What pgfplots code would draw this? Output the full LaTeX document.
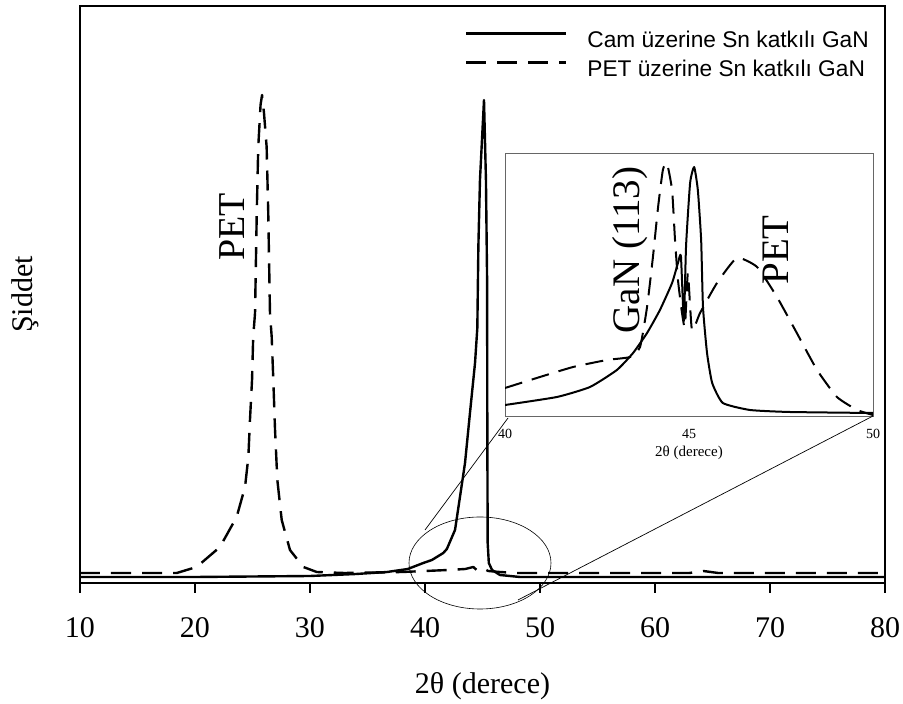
\documentclass[border=0pt]{standalone}
\usepackage{fontspec}
\setmainfont{Liberation Serif}
\newfontfamily\arial{Liberation Sans}
\usepackage{pgfplots}
\pgfplotsset{compat=1.18}
\begin{document}
\begin{tikzpicture}
\useasboundingbox (0pt,0pt) rectangle (903pt,704pt);
\begin{axis}[
  at={(80pt,121pt)}, anchor=south west, scale only axis,
  width=805pt, height=577pt,
  xmin=10, xmax=80, ymin=0, ymax=577,
  xtick={10,20,...,80}, ytick=\empty,
  xtick pos=bottom, tick align=outside, major tick length=10pt,
  axis line style={line width=1.6pt},
  every tick/.style={line width=1.2pt, black},
  /pgf/number format/assume math mode=true,
  xticklabel style={font=\fontsize{30}{30}\selectfont, yshift=-21pt},
  xlabel={2θ (derece)},
  xlabel style={font=\fontsize{30}{30}\selectfont, at={(axis description cs:0.5,-0.1785)}, anchor=center},
  ylabel={Şiddet},
  ylabel style={font=\fontsize{30}{30}\selectfont, at={(axis description cs:-0.0683,0.5)}, anchor=center},
  legend image code/.code={\draw[#1] (0pt,8pt) -- (100pt,8pt);},
  legend style={draw=none, fill=none, inner sep=0pt, font=\arial\fontsize{22.7}{22.7}\selectfont,
    at={(axis description cs:0.478,0.958)}, anchor=north west,
    nodes={inner sep=0pt, text height=17pt, text depth=5pt},
    column sep=20pt, row sep=7pt},
  legend cell align=left,
]
\addplot[line width=2.4pt, line join=round] coordinates {
(10,6)(20,6)(30,7)(34,9)(36.7,11)(38.5,14)(39.85,20)(40.6,23)(41.59,30)(41.9,34)(42.61,53)(43.04,86)(43.48,120)(43.91,170)(44.35,220)(44.55,255)(44.64,336)(44.78,403)(45.13,483)(45.30,403)(45.40,303)(45.42,150)(45.45,40)(45.55,20)(45.83,13)(46.52,8)(48.26,6)(60,6)(80,6)};
\addlegendentry{Cam üzerine Sn katkılı GaN}
\addplot[line width=2.4pt, line join=round, dash pattern=on 20pt off 11pt] coordinates {
(10,10)(14,10)(16,10)(18.41,10)(20.14,16)(22.17,36)(23.62,66)(24.35,96)(24.64,126)(24.78,163)(24.96,203)(25.06,246)(25.22,270)(25.37,370)(25.50,436)(25.70,478)(25.83,488)(26.0,470)(26.23,436)(26.37,370)(26.52,270)(26.67,246)(26.81,203)(26.96,153)(27.16,103)(27.54,63)(28.26,33)(29.42,16)(30.58,11)(33,10)(38,11)(40,12)(42,13)(43.5,14)(44.2,16)(44.5,13)(45,15)(45.5,12)(46.5,11)(48,10)(52,10)(60,10)(63,10)(64.2,12)(65.5,10)(70,10)(80,10)};
\addlegendentry{PET üzerine Sn katkılı GaN}
\node[rotate=90, font=\fontsize{38}{38}\selectfont] at (axis cs:23.2,356) {PET};
\end{axis}
\draw[line width=0.6pt] (480pt,141pt) ellipse (71pt and 46pt);
\begin{axis}[
  at={(505pt,288pt)}, anchor=south west, scale only axis,
  width=368pt, height=263pt,
  xmin=40, xmax=50, ymin=0, ymax=263,
  xtick={40,45,50}, ytick=\empty, major tick length=0pt,
  axis line style={black!60, line width=0.8pt},
  axis background/.style={fill=white},
  /pgf/number format/assume math mode=true,
  xticklabel style={font=\fontsize{14}{14}\selectfont, yshift=-10pt},
  xlabel={2θ (derece)},
  xlabel style={font=\fontsize{15}{15}\selectfont, at={(axis description cs:0.5,-0.14)}, anchor=center},
]
\addplot[line width=2pt, line join=round, smooth, tension=0.3] coordinates {
(40,11)(41.41,19)(42.31,29)(43.04,46)(43.48,63)(43.86,83)(44.21,106)(44.54,133)(44.70,153)(44.78,160)(44.86,95)(44.92,170)(45.03,233)(45.14,249)(45.24,226)(45.33,176)(45.38,109)(45.49,63)(45.63,33)(45.92,13)(46.66,6)(47.74,4)(50,3)};
\addplot[line width=2pt, line join=round, smooth, tension=0.3, dash pattern=on 18pt off 10pt] coordinates {
(40,28)(40.95,39)(41.85,49)(42.77,56)(43.40,59)(43.67,69)(43.86,109)(44.02,159)(44.16,209)(44.29,246)(44.40,253)(44.54,226)(44.62,176)(44.70,136)(44.81,103)(44.89,89)(44.97,143)(45.08,86)(45.30,103)(45.76,133)(46.30,158)(46.85,149)(47.39,119)(47.93,83)(48.48,46)(49.02,19)(49.57,6)(50,1)};
\node[rotate=90, font=\fontsize{39}{39}\selectfont] at (axis cs:43.40,166) {GaN (113)};
\node[rotate=90, font=\fontsize{39}{39}\selectfont] at (axis cs:47.35,166) {PET};
\end{axis}
\draw[line width=0.7pt] (425pt,174pt) -- (508pt,286pt);
\draw[line width=0.7pt] (518pt,104pt) -- (873pt,288pt);
\end{tikzpicture}
\end{document}
